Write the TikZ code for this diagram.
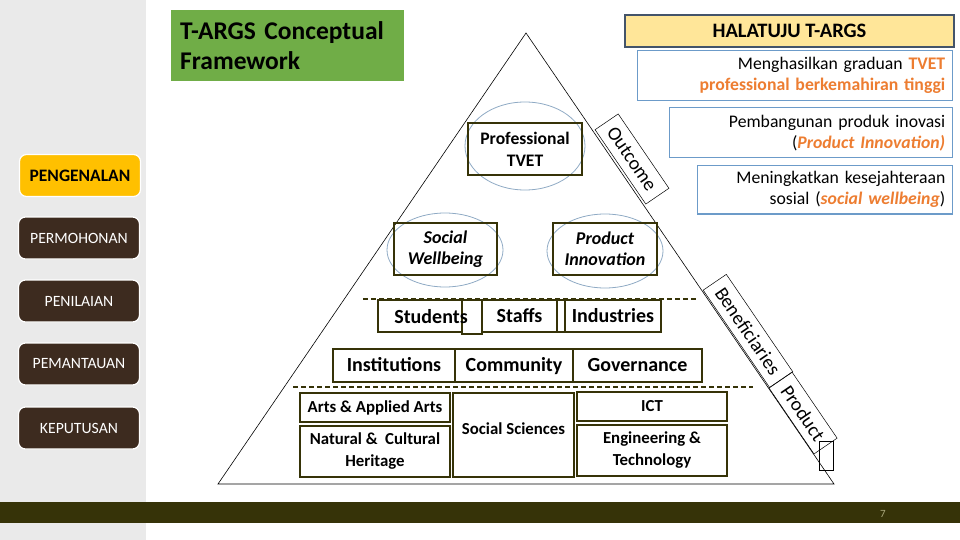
\documentclass[tikz,border=0pt]{standalone}
\usepackage{fontspec}
\setmainfont{Carlito}
\definecolor{olivedark}{HTML}{363308}
\definecolor{wood}{HTML}{3D2B1F}
\definecolor{amber}{HTML}{FFC000}
\definecolor{leafgreen}{HTML}{70AD47}
\definecolor{sand}{HTML}{FFE699}
\definecolor{slate}{HTML}{44546A}
\definecolor{skyline}{HTML}{6C9BC9}
\definecolor{ringblue}{HTML}{8FAAC4}
\definecolor{accent}{HTML}{ED7D31}
\definecolor{sidegray}{HTML}{EAEAEA}
\definecolor{pagegray}{HTML}{A8A67A}
\newcommand{\hl}[1]{\textcolor{accent}{\bfseries #1}}
\newcommand{\hli}[1]{\textcolor{accent}{\bfseries\itshape #1}}
\begin{document}
\begin{tikzpicture}[
		x=1pt, y=-1pt,
		menu/.style={rounded corners=7pt, fill=wood, draw=white, line width=1.2pt, text=white,
			minimum width=121pt, minimum height=42pt, font=\fontsize{15.7}{18}\selectfont},
		goal/.style={draw=skyline, line width=1.5pt, fill=white, anchor=north east, align=right,
			inner xsep=7pt, inner ysep=0pt, font=\fontsize{17.7}{21}\selectfont},
		cell/.style={draw=olivedark, line width=1.8pt, inner sep=0pt, align=center,
			font=\bfseries\fontsize{20}{22}\selectfont},
		rowcell/.style={cell, text height=14pt, text depth=2pt},
		field/.style={cell, font=\bfseries\fontsize{16.8}{22}\selectfont},
		aim/.style={cell, font=\bfseries\itshape\fontsize{18}{21}\selectfont},
		ring/.style={draw=ringblue, line width=0.8pt},
		tag/.style={draw, line width=0.5pt, rotate=-55.7, minimum height=28pt, inner sep=0pt,
			font=\fontsize{19.5}{20}\selectfont},
		tierline/.style={draw=olivedark, line width=1.5pt, dash pattern=on 5pt off 3pt}
	]
	\useasboundingbox (0,0) rectangle (960,540);
	\fill[sidegray] (0,0) rectangle (146,540);
	\fill[olivedark] (0,502) rectangle (960,523);
	\node[text=pagegray, font=\fontsize{11}{12}\selectfont] (pagenum) at (883,514) {7};

	\node[menu, fill=amber, text=black, font=\bfseries\fontsize{17.5}{18}\selectfont] (pengenalan) at (80,175.5) {PENGENALAN};
	\node[menu] (permohonan) at (79,238) {PERMOHONAN};
	\node[menu] (penilaian) at (79,301) {PENILAIAN};
	\node[menu] (pemantauan) at (79,364) {PEMANTAUAN};
	\node[menu] (keputusan) at (79,428) {KEPUTUSAN};

	\node[fill=leafgreen, anchor=north west, minimum width=233pt, minimum height=71pt, inner xsep=9pt,
		text width=215pt, align=left, font=\bfseries\fontsize{25.5}{30}\selectfont] (title) at (171,10)
		{T-ARGS Conceptual\\Framework};

	\node[draw=slate, line width=2pt, fill=sand, anchor=north west, minimum width=329pt, minimum height=32pt,
		font=\bfseries\fontsize{20.5}{22}\selectfont] (halatuju) at (624,14) {HALATUJU T-ARGS};
	\node[goal, text width=301pt, minimum height=50pt] (graduan) at (953,50)
		{Menghasilkan graduan \hl{TVET}\\\hl{professional berkemahiran tinggi}};
	\node[goal, text width=269pt, minimum height=50pt] (inovasi) at (953,107)
		{Pembangunan produk inovasi\\(\hli{Product Innovation)}};
	\node[goal, text width=241pt, minimum height=48pt] (sosial) at (953,165)
		{Meningkatkan kesejahteraan\\sosial (\hli{social wellbeing})};

	\draw[line width=0.6pt] (526,33) -- (218,484) -- (834,484) -- cycle;
	\draw[line width=0.6pt] (819,441) rectangle (833,470);

	\draw[ring] (525,146) ellipse [x radius=60, y radius=44];
	\draw[ring] (445,250) ellipse [x radius=58, y radius=37];
	\draw[ring] (605,251) ellipse [x radius=58, y radius=37];
	\node[field, font=\bfseries\fontsize{17.6}{22}\selectfont, minimum width=114pt, minimum height=52pt] (proftvet) at (525,149) {Professional\\TVET};
	\node[aim, minimum width=103pt, minimum height=52pt] (wellbeing) at (445.5,249) {Social\\Wellbeing};
	\node[aim, minimum width=104pt, minimum height=52pt] (innovation) at (605,249) {Product\\Innovation};

	\node[tag, minimum width=90pt] (outcome) at (632,159) {Outcome};
	\node[tag, minimum width=118pt] (beneficiaries) at (748,331) {Beneficiaries};
	\node[tag, minimum width=80pt] (product) at (803,413) {Product};

	\draw[tierline] (363,299) -- (698,299);
	\draw[tierline] (293,387) -- (753,387);

	\node[cell, minimum width=84pt, minimum height=32pt] (students) at (420,316) {};
	\node[cell, minimum width=20pt, minimum height=34pt] (gapone) at (472,317) {};
	\node[font=\bfseries\fontsize{20}{22}\selectfont, text height=14pt, text depth=2pt] (studtext) at (431,317) {Students};
	\node[rowcell, minimum width=75pt, minimum height=32pt] (staffs) at (519.5,316) {Staffs};
	\node[cell, minimum width=8pt, minimum height=32pt] (gaptwo) at (561,316) {};
	\node[rowcell, minimum width=96pt, minimum height=32pt] (industries) at (613,316) {Industries};

	\node[rowcell, minimum width=122pt, minimum height=33pt] (institutions) at (394,365.5) {Institutions};
	\node[rowcell, minimum width=118pt, minimum height=33pt] (community) at (514,365.5) {Community};
	\node[rowcell, minimum width=129pt, minimum height=33pt] (governance) at (637.5,365.5) {Governance};

	\node[field, minimum width=150pt, minimum height=29pt] (arts) at (375,407.5) {Arts \& Applied Arts};
	\node[field, minimum width=150pt, minimum height=51pt] (heritage) at (375,451.5) {Natural \&\ \ Cultural\\Heritage};
	\node[field, minimum width=121pt, minimum height=84pt] (socsci) at (513.5,435) {Social Sciences\\[-10pt]};
	\node[field, minimum width=150pt, minimum height=29pt] (ict) at (652,406.5) {ICT};
	\node[field, minimum width=150pt, minimum height=51pt] (engineering) at (652,450.5) {Engineering \&\\Technology};
\end{tikzpicture}
\end{document}
